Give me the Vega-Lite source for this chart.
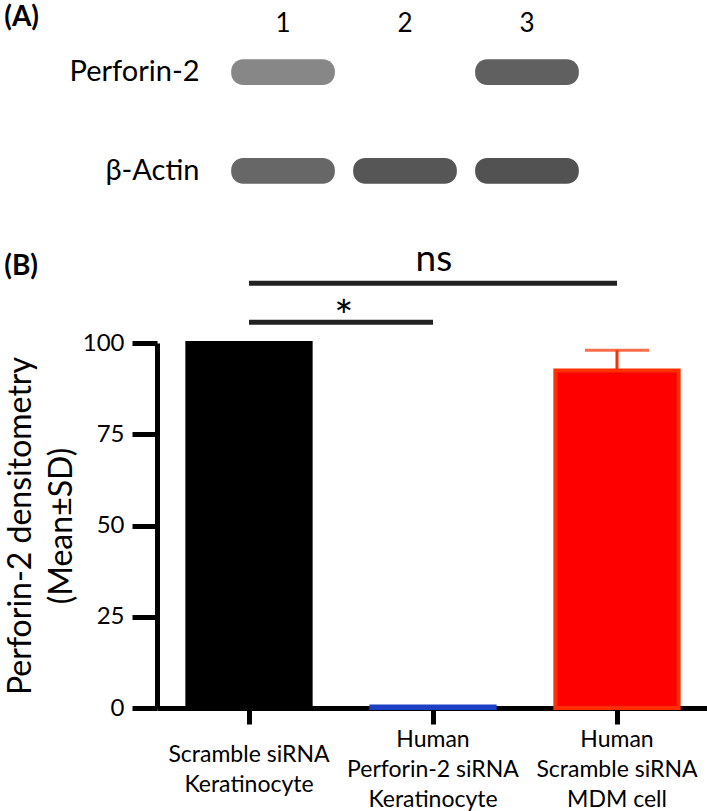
{
  "$schema": "https://vega.github.io/schema/vega-lite/v6.json",
  "background": "white",
  "padding": {"left": 4, "top": 4, "right": 0, "bottom": 0},
  "config": {"font": "Lato", "view": {"stroke": null}, "axis": {"grid": false}},
  "datasets": {
    "blot": [
      {"protein": "Perforin-2", "lane": "1", "intensity": 62},
      {"protein": "Perforin-2", "lane": "2", "intensity": 0},
      {"protein": "Perforin-2", "lane": "3", "intensity": 84},
      {"protein": "β-Actin", "lane": "1", "intensity": 80},
      {"protein": "β-Actin", "lane": "2", "intensity": 90},
      {"protein": "β-Actin", "lane": "3", "intensity": 92}
    ],
    "bars": [
      {"group": "Scramble siRNA|Keratinocyte", "mean": 100, "sd": 0},
      {"group": "Human|Perforin-2 siRNA|Keratinocyte", "mean": 0.4, "sd": 0},
      {"group": "Human|Scramble siRNA|MDM cell", "mean": 92.5, "sd": 5.5}
    ],
    "notes": [
      {"from": "Scramble siRNA|Keratinocyte", "to": "Human|Scramble siRNA|MDM cell", "level": 116.4, "label": "ns"},
      {"from": "Scramble siRNA|Keratinocyte", "to": "Human|Perforin-2 siRNA|Keratinocyte", "level": 105.7, "label": "*"}
    ]
  },
  "title": {"text": "(A)", "anchor": "start", "frame": "bounds", "fontSize": 28, "fontWeight": "bold", "color": "black", "offset": -22},
  "bounds": "flush",
  "spacing": 144,
  "vconcat": [
    {
      "width": 496,
      "height": 155,
      "data": {"name": "blot"},
      "mark": {"type": "rect", "cornerRadius": 12},
      "encoding": {
        "x": {"field": "lane", "type": "ordinal",
              "scale": {"paddingInner": 0.15, "paddingOuter": 0.608},
              "axis": {"orient": "top", "title": null, "ticks": false, "tickSize": 0, "domain": false, "labelAngle": 0, "labelFontSize": 26, "labelPadding": 21, "labelBaseline": "middle", "labelColor": "black"}},
        "y": {"field": "protein", "type": "nominal", "sort": ["Perforin-2", "β-Actin"],
              "scale": {"paddingInner": 0.74, "paddingOuter": 0.153},
              "axis": {"title": null, "ticks": false, "tickSize": 0, "domain": false, "labelFontSize": 29, "labelPadding": -42, "labelColor": "black"}},
        "color": {"field": "intensity", "type": "quantitative", "scale": {"domain": [0, 100], "range": ["#ffffff", "#454545"]}, "legend": null}
      }
    },
    {
      "width": 552,
      "height": 365,
      "title": {"text": "(B)", "anchor": "start", "frame": "bounds", "fontSize": 28, "fontWeight": "bold", "color": "black", "offset": -40},
      "encoding": {
        "x": {"field": "group", "type": "nominal",
              "scale": {"domain": ["Scramble siRNA|Keratinocyte", "Human|Perforin-2 siRNA|Keratinocyte", "Human|Scramble siRNA|MDM cell"], "paddingInner": 0.33, "paddingOuter": 0.165},
              "axis": {"title": null, "labelAngle": 0, "labelExpr": "split(datum.label, '|')", "labelFontSize": 23, "labelLineHeight": 30, "labelBaseline": "middle",
                       "labelPadding": {"condition": {"test": "indexof(datum.value, 'Human') == 0", "value": 15}, "value": 30},
                       "labelColor": "black", "labelLimit": 400, "labelOverlap": false, "tickSize": 16, "tickWidth": 5, "tickColor": "black", "domainWidth": 5, "domainColor": "black"}},
        "y": {"field": "mean", "type": "quantitative", "scale": {"domain": [0, 100]},
              "axis": {"values": [0, 25, 50, 75, 100], "title": ["Perforin-2 densitometry", "(Mean±SD)"], "titleFontSize": 32, "titleFontWeight": "normal", "titleColor": "black", "titleLineHeight": 41, "titlePadding": 4, "labelFontSize": 24, "labelColor": "black", "labelPadding": 8, "tickSize": 25, "tickWidth": 5, "tickColor": "black", "domainWidth": 5, "domainColor": "black"}}
      },
      "layer": [
        {
          "data": {"name": "bars"},
          "transform": [{"filter": "datum.sd > 0"}],
          "mark": {"type": "errorbar", "color": "#ff3000", "thickness": 3, "ticks": {"size": 64, "thickness": 3, "color": "#ff3000"}},
          "encoding": {
            "yError": {"field": "sd"}
          }
        },
        {
          "data": {"name": "bars"},
          "mark": {"type": "bar", "strokeWidth": 4},
          "encoding": {
            "color": {"field": "group", "type": "nominal", "scale": {"domain": ["Scramble siRNA|Keratinocyte", "Human|Perforin-2 siRNA|Keratinocyte", "Human|Scramble siRNA|MDM cell"], "range": ["#000000", "#1c3fc4", "#ff0000"]}, "legend": null},
            "stroke": {"field": "group", "type": "nominal", "scale": {"domain": ["Scramble siRNA|Keratinocyte", "Human|Perforin-2 siRNA|Keratinocyte", "Human|Scramble siRNA|MDM cell"], "range": ["#000000", "#1c3fc4", "#ff3000"]}, "legend": null}
          }
        },
        {
          "data": {"name": "notes"},
          "mark": {"type": "rule", "strokeWidth": 5, "color": "#222222"},
          "encoding": {
            "x": {"field": "from", "type": "nominal"},
            "x2": {"field": "to"},
            "y": {"field": "level", "type": "quantitative"}
          }
        },
        {
          "data": {"name": "notes"},
          "transform": [{"filter": "datum.label == 'ns'"}],
          "mark": {"type": "text", "fontSize": 37, "baseline": "alphabetic", "dy": -12, "color": "black"},
          "encoding": {
            "x": {"field": "from", "type": "nominal", "bandPosition": 2.0},
            "y": {"field": "level", "type": "quantitative"},
            "text": {"field": "label"}
          }
        },
        {
          "data": {"name": "notes"},
          "transform": [{"filter": "datum.label == '*'"}],
          "mark": {"type": "text", "fontSize": 45, "baseline": "alphabetic", "dy": 10, "color": "black"},
          "encoding": {
            "x": {"field": "from", "type": "nominal", "bandPosition": 1.27},
            "y": {"field": "level", "type": "quantitative"},
            "text": {"field": "label"}
          }
        }
      ]
    }
  ]
}
